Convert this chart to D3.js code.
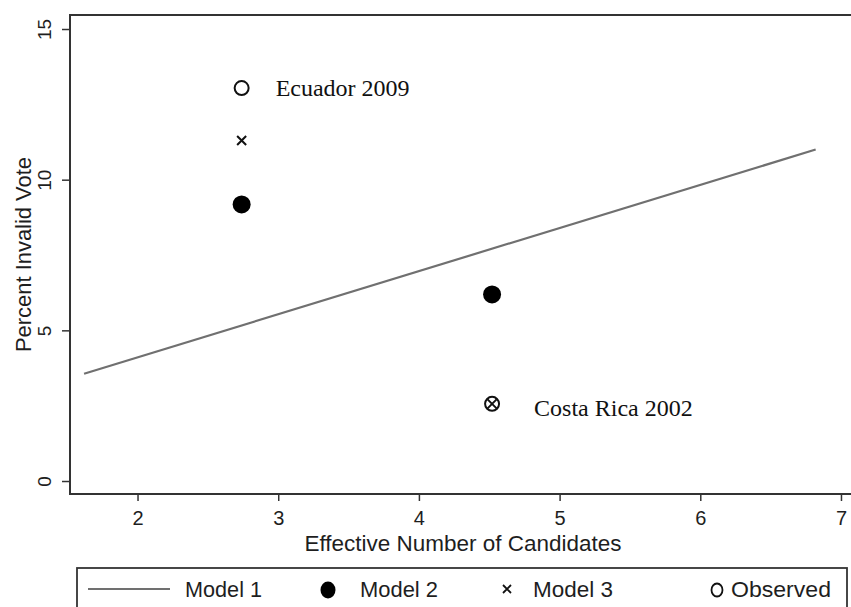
<!DOCTYPE html>
<html>
<head>
<meta charset="utf-8">
<script src="https://cdn.jsdelivr.net/npm/d3@7"></script>
<style>
  html, body { margin: 0; padding: 0; background: #fff; }
  svg { display: block; }
</style>
</head>
<body>
<svg id="chart" width="851" height="607"></svg>
<script>
// Fitted line (Model 1) end points
const lineX = [1.62, 6.82];
const lineY = [3.56, 11.0];

// Election cases
const cases = ["Ecuador 2009", "Costa Rica 2002"];
const enc = [2.74, 4.52];          // effective number of candidates
const model2 = [9.18, 6.19];       // Model 2 predictions
const model3 = [11.3, 2.56];       // Model 3 predictions
const observed = [13.04, 2.56];    // observed invalid vote

const xTicks = [2, 3, 4, 5, 6, 7];
const yTicks = [0, 5, 10, 15];
const legendLabels = ["Model 1", "Model 2", "Model 3", "Observed"];

const svg = d3.select("#chart");
const L = 70, T = 15, R = 858, B = 494;

const x = d3.scaleLinear().domain([1.52, 7.121]).range([L, R]);
const y = d3.scaleLinear().domain([-0.431, 15.465]).range([B, T]);

const sans = "'Liberation Sans', Arial, Helvetica, sans-serif";
const serif = "'Liberation Serif', 'Times New Roman', serif";
const ink = "#1e1e1e";

// Plot frame
svg.append("rect")
  .attr("x", L).attr("y", T).attr("width", R - L).attr("height", B - T)
  .attr("fill", "none").attr("stroke", "#333").attr("stroke-width", 2);

// X axis
const xAxis = svg.append("g").attr("transform", `translate(0,${B})`)
  .call(d3.axisBottom(x).tickValues(xTicks).tickSize(7).tickPadding(10).tickFormat(d3.format("d")));
xAxis.select(".domain").remove();
xAxis.selectAll("line").attr("stroke", "#333").attr("stroke-width", 1.5);
xAxis.selectAll("text").attr("font-family", sans).attr("font-size", 20).attr("fill", ink);

// Y axis with rotated labels
const yAxis = svg.append("g").attr("transform", `translate(${L},0)`)
  .call(d3.axisLeft(y).tickValues(yTicks).tickSize(8).tickFormat(d3.format("d")));
yAxis.select(".domain").remove();
yAxis.selectAll("line").attr("stroke", "#333").attr("stroke-width", 1.5);
yAxis.selectAll("text")
  .attr("font-family", sans).attr("font-size", 19).attr("fill", ink)
  .attr("x", 0).attr("y", 0).attr("dy", null)
  .attr("text-anchor", "middle")
  .attr("transform", `translate(${51 - L},0) rotate(-90)`);

// Axis titles
svg.append("text")
  .attr("x", 463).attr("y", 551)
  .attr("text-anchor", "middle")
  .attr("font-family", sans).attr("font-size", 22).attr("fill", ink)
  .attr("textLength", 317).attr("lengthAdjust", "spacingAndGlyphs")
  .text("Effective Number of Candidates");

svg.append("text")
  .attr("transform", `translate(31,${254.5}) rotate(-90)`)
  .attr("text-anchor", "middle")
  .attr("font-family", sans).attr("font-size", 22).attr("fill", ink)
  .attr("textLength", 195).attr("lengthAdjust", "spacingAndGlyphs")
  .text("Percent Invalid Vote");

// Model 1 line
svg.append("line")
  .attr("x1", x(lineX[0])).attr("y1", y(lineY[0]))
  .attr("x2", x(lineX[1])).attr("y2", y(lineY[1]))
  .attr("stroke", "#707070").attr("stroke-width", 2.2);

const crossPath = (cx, cy, s) =>
  `M${cx - s},${cy - s}L${cx + s},${cy + s}M${cx - s},${cy + s}L${cx + s},${cy - s}`;

// Model 2: filled dots
svg.selectAll(".m2").data(enc).enter().append("circle")
  .attr("cx", d => x(d)).attr("cy", (d, i) => y(model2[i]))
  .attr("r", 9).attr("fill", "#000");

// Observed: hollow circles
svg.selectAll(".obs").data(enc).enter().append("circle")
  .attr("cx", d => x(d)).attr("cy", (d, i) => y(observed[i]))
  .attr("r", 7).attr("fill", "none").attr("stroke", "#111").attr("stroke-width", 2);

// Model 3: crosses
svg.selectAll(".m3").data(enc).enter().append("path")
  .attr("d", (d, i) => crossPath(x(d), y(model3[i]), 4.5))
  .attr("stroke", "#111").attr("stroke-width", 2).attr("fill", "none");

// Case labels
svg.append("text")
  .attr("x", x(enc[0]) + 34).attr("y", y(observed[0]) + 8)
  .attr("font-family", serif).attr("font-size", 24).attr("fill", "#111")
  .text(cases[0]);
svg.append("text")
  .attr("x", x(enc[1]) + 42).attr("y", y(observed[1]) + 12)
  .attr("font-family", serif).attr("font-size", 24).attr("fill", "#111")
  .text(cases[1]);

// Legend
const lg = svg.append("g");
lg.append("rect")
  .attr("x", 77).attr("y", 568).attr("width", 770).attr("height", 80)
  .attr("fill", "#fff").attr("stroke", "#333").attr("stroke-width", 1.8);
const ly = 589;
lg.append("line").attr("x1", 88).attr("x2", 170).attr("y1", ly).attr("y2", ly)
  .attr("stroke", "#707070").attr("stroke-width", 2);
lg.append("ellipse").attr("cx", 328).attr("cy", ly + 1).attr("rx", 7.5).attr("ry", 8.5).attr("fill", "#000");
lg.append("path").attr("d", crossPath(507, ly, 4)).attr("stroke", "#111").attr("stroke-width", 1.8);
lg.append("ellipse").attr("cx", 717).attr("cy", ly + 1).attr("rx", 5.5).attr("ry", 6.5)
  .attr("fill", "none").attr("stroke", "#111").attr("stroke-width", 1.8);

const legendX = [185, 360, 533, 731];
const legendW = [77, 78, 80, 100];
lg.selectAll(".lt").data(legendLabels).enter().append("text")
  .attr("x", (d, i) => legendX[i]).attr("y", ly + 8)
  .attr("font-family", sans).attr("font-size", 22).attr("fill", ink)
  .attr("textLength", (d, i) => legendW[i]).attr("lengthAdjust", "spacingAndGlyphs")
  .text(d => d);
</script>
</body>
</html>
